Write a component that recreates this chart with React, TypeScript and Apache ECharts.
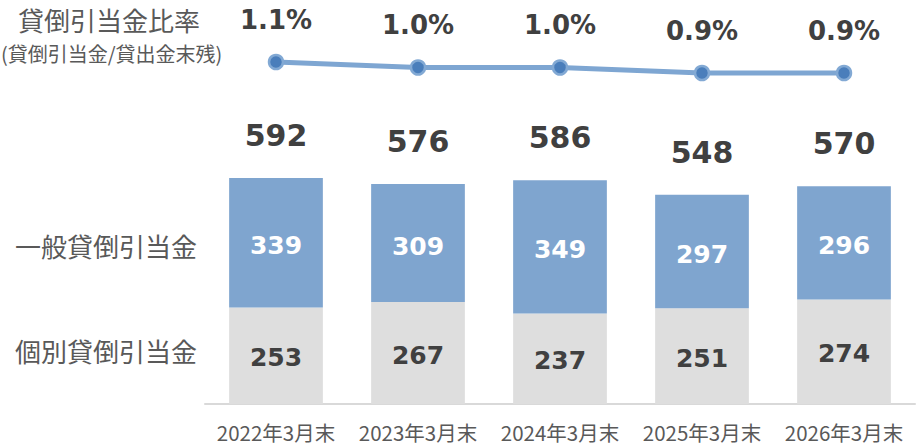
import React, { useEffect, useRef } from "react";
import * as echarts from "echarts";

const categories = ["2022年3月末", "2023年3月末", "2024年3月末", "2025年3月末", "2026年3月末"];
const individual = [253, 267, 237, 251, 274];
const general = [339, 309, 349, 297, 296];
const ratio = [1.1, 1.0, 1.0, 0.9, 0.9];
const totals = individual.map((v, i) => v + general[i]);

const NUM_FONT = "'DejaVu Sans', Verdana, sans-serif";
const JP_FONT = "'Noto Sans CJK JP', sans-serif";
const TEXT_GRAY = "#595959";
const DARK = "#404040";

export default function App() {
  const ref = useRef<HTMLDivElement>(null);
  useEffect(() => {
    if (!ref.current) return;
    const chart = echarts.init(ref.current, undefined, { renderer: "svg" });
    chart.setOption({
      animation: false,
      backgroundColor: "#ffffff",
      grid: [
        { left: 205, right: 4, top: 22.2, bottom: 41 },
        { left: 205, right: 4, top: 40, height: 55 },
      ],
      xAxis: [
        {
          type: "category",
          gridIndex: 0,
          data: categories,
          axisLine: { show: true, lineStyle: { color: "#d9d9d9", width: 2 } },
          axisTick: { show: false },
          axisLabel: { interval: 0, color: TEXT_GRAY, fontSize: 20.5, fontFamily: JP_FONT, margin: 17, lineHeight: 21 },
        },
        {
          type: "category",
          gridIndex: 1,
          data: categories,
          show: false,
        },
      ],
      yAxis: [
        { type: "value", gridIndex: 0, min: 0, max: 1000, show: false },
        { type: "value", gridIndex: 1, min: 0.5, max: 1.5, show: false },
      ],
      series: [
        {
          name: "個別貸倒引当金",
          type: "bar",
          stack: "total",
          xAxisIndex: 0,
          yAxisIndex: 0,
          data: individual,
          barWidth: "66%",
          itemStyle: { color: "#dedede" },
          label: {
            show: true,
            position: "inside",
            offset: [0, 2],
            color: DARK,
            fontSize: 25,
            fontWeight: "bold",
            fontFamily: NUM_FONT,
          },
        },
        {
          name: "一般貸倒引当金",
          type: "bar",
          stack: "total",
          xAxisIndex: 0,
          yAxisIndex: 0,
          data: general,
          barWidth: "66%",
          itemStyle: { color: "#7fa5cf" },
          label: {
            show: true,
            position: "inside",
            offset: [0, 3],
            color: "#ffffff",
            fontSize: 25,
            fontWeight: "bold",
            fontFamily: NUM_FONT,
          },
        },
        {
          name: "合計",
          type: "scatter",
          xAxisIndex: 0,
          yAxisIndex: 0,
          data: totals,
          symbolSize: 1,
          itemStyle: { color: "rgba(255,255,255,0)", opacity: 1 },
          label: {
            show: true,
            position: "top",
            distance: 27,
            color: DARK,
            opacity: 1,
            fontSize: 30,
            fontWeight: "bold",
            fontFamily: NUM_FONT,
          },
          z: 5,
        },
        {
          name: "貸倒引当金比率",
          type: "line",
          xAxisIndex: 1,
          yAxisIndex: 1,
          data: ratio,
          symbol: "circle",
          symbolSize: 14,
          lineStyle: { color: "#7ea6d2", width: 5 },
          itemStyle: { color: "#4a7ebb", borderColor: "#82a9d4", borderWidth: 2.5 },
          label: {
            show: true,
            position: "top",
            distance: 21,
            color: DARK,
            fontSize: 26,
            fontWeight: "bold",
            fontFamily: NUM_FONT,
            formatter: (p: any) => p.value.toFixed(1) + "%",
          },
        },
      ],
      graphic: [
        {
          type: "text",
          left: 18,
          top: 6,
          style: { text: "貸倒引当金比率", fontSize: 26, fontFamily: JP_FONT, fill: TEXT_GRAY },
        },
        {
          type: "text",
          left: 1,
          top: 43,
          style: { text: "(貸倒引当金/貸出金末残)", fontSize: 20, fontFamily: JP_FONT, fill: TEXT_GRAY },
        },
        {
          type: "text",
          left: 15,
          top: 232,
          style: { text: "一般貸倒引当金", fontSize: 26, fontFamily: JP_FONT, fill: TEXT_GRAY },
        },
        {
          type: "text",
          left: 15,
          top: 337,
          style: { text: "個別貸倒引当金", fontSize: 26, fontFamily: JP_FONT, fill: TEXT_GRAY },
        },
      ],
    });
    return () => chart.dispose();
  }, []);
  return <div ref={ref} style={{ width: 919, height: 445, position: "absolute", left: 0, top: 0 }} />;
}
